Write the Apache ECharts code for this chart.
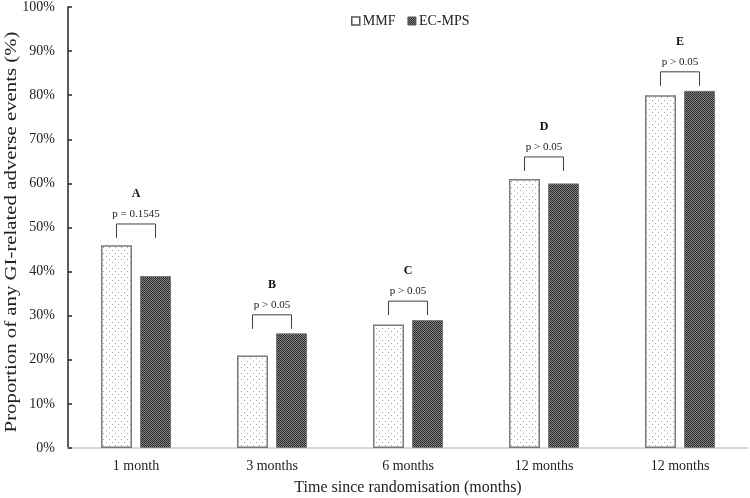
<!DOCTYPE html>
<html>
<head>
<meta charset="utf-8">
<script src="https://cdn.jsdelivr.net/npm/echarts@6/dist/echarts.min.js"></script>
<style>
html,body{margin:0;padding:0;background:#fff;}
#chart{width:750px;height:498px;}
</style>
</head>
<body>
<div id="chart"></div>
<script>
// ---- data ----
var categories = ['1 month', '3 months', '6 months', '12 months', '12 months'];
var mmfValues = [46, 21, 28, 61, 80];
var ecmpsValues = [39, 26, 29, 60, 81];
var groupLetters = ['A', 'B', 'C', 'D', 'E'];
var pLabels = ['p = 0.1545', 'p > 0.05', 'p > 0.05', 'p > 0.05', 'p > 0.05'];
var bracketLevels = [50.8, 30.2, 33.3, 66.0, 85.3];
var yTicks = [0, 10, 20, 30, 40, 50, 60, 70, 80, 90, 100];
var yTitle = 'Proportion of any GI-related adverse events (%)';
var xTitle = 'Time since randomisation (months)';

// ---- patterns ----
function makeDots() {
  var c = document.createElement('canvas');
  c.width = 6; c.height = 6;
  var g = c.getContext('2d');
  g.fillStyle = '#ffffff'; g.fillRect(0, 0, 6, 6);
  g.fillStyle = '#a0a0a0';
  g.fillRect(1, 1, 1, 1);
  g.fillRect(4, 4, 1, 1);
  return c;
}
function makeChecker() {
  var c = document.createElement('canvas');
  c.width = 2; c.height = 2;
  var g = c.getContext('2d');
  g.fillStyle = '#2a2a2a'; g.fillRect(0, 0, 2, 2);
  g.fillStyle = '#858585';
  g.fillRect(1, 0, 1, 1);
  g.fillRect(0, 1, 1, 1);
  return c;
}
var dotPattern = { image: makeDots(), repeat: 'repeat' };
var checkPattern = { image: makeChecker(), repeat: 'repeat' };

var FONT = "'Liberation Serif', 'Times New Roman', serif";
var BAR_W = 31, BAR_GAP = 8;
var half = (BAR_W + BAR_GAP) / 2;

var chart = echarts.init(document.getElementById('chart'));
chart.setOption({
  animation: false,
  backgroundColor: '#ffffff',
  textStyle: { fontFamily: FONT },
  grid: { left: 68, right: 2, top: 7, bottom: 50, containLabel: false, outerBoundsMode: 'none' },
  graphic: [{
    type: 'text', x: 12, y: 232, rotation: Math.PI / 2, scaleX: 1.3, scaleY: 1,
    silent: true,
    style: { text: yTitle, fontFamily: FONT, fontSize: 16, fill: '#222', align: 'center', verticalAlign: 'middle' }
  }],
  legend: {
    left: 351, top: 14, padding: 0,
    itemWidth: 8, itemHeight: 8, itemGap: 12,
    icon: 'rect',
    textStyle: { fontFamily: FONT, fontSize: 14, color: '#222', padding: [0, 0, 0, -2] },
    data: [
      { name: 'MMF', itemStyle: { color: '#ffffff', borderColor: '#555', borderWidth: 1.5 } },
      { name: 'EC-MPS', itemStyle: { color: checkPattern, borderColor: '#555', borderWidth: 1 } }
    ]
  },
  xAxis: {
    type: 'category',
    data: categories,
    axisLine: { lineStyle: { color: '#d9d9d9', width: 2 } },
    axisTick: { show: false },
    axisLabel: { fontFamily: FONT, fontSize: 14, color: '#222', margin: 11 },
    name: xTitle,
    nameLocation: 'middle',
    nameGap: 32,
    nameMoveOverlap: false,
    nameTextStyle: { fontFamily: FONT, fontSize: 16, color: '#222' }
  },
  yAxis: {
    type: 'value',
    min: yTicks[0], max: yTicks[yTicks.length - 1], interval: 10,
    axisLine: { show: true, lineStyle: { color: '#262626', width: 1.5 } },
    axisTick: { show: true, inside: true, length: 4, lineStyle: { color: '#262626', width: 1.5 } },
    splitLine: { show: false },
    axisLabel: { fontFamily: FONT, fontSize: 14, color: '#222', margin: 13, formatter: '{value}%' }
  },
  series: [
    {
      name: 'MMF', type: 'bar', data: mmfValues,
      barWidth: BAR_W, barGap: (BAR_GAP / BAR_W * 100) + '%',
      itemStyle: { color: dotPattern, borderColor: '#7a7a7a', borderWidth: 1.5 }
    },
    {
      name: 'EC-MPS', type: 'bar', data: ecmpsValues,
      barWidth: BAR_W,
      itemStyle: { color: checkPattern, borderColor: '#7a7a7a', borderWidth: 1 }
    },
    {
      name: 'annot', type: 'custom',
      data: bracketLevels.map(function (v, i) { return [i, v]; }),
      silent: true,
      z: 5,
      renderItem: function (params, api) {
        var i = api.value(0);
        var p = api.coord([i, api.value(1)]);
        var x0 = p[0] - half, x1 = p[0] + half, y = p[1];
        return {
          type: 'group',
          children: [
            { type: 'polyline', shape: { points: [[x0, y + 14], [x0, y], [x1, y], [x1, y + 14]] },
              style: { stroke: '#404040', lineWidth: 1, fill: null } },
            { type: 'text', x: p[0], y: y - 10,
              style: { text: pLabels[i], fontFamily: FONT, fontSize: 11, fill: '#222', align: 'center', verticalAlign: 'middle' } },
            { type: 'text', x: p[0], y: y - 30,
              style: { text: groupLetters[i], fontFamily: FONT, fontSize: 12, fontWeight: 'bold', fill: '#111', align: 'center', verticalAlign: 'middle' } }
          ]
        };
      }
    }
  ]
});
</script>
</body>
</html>
